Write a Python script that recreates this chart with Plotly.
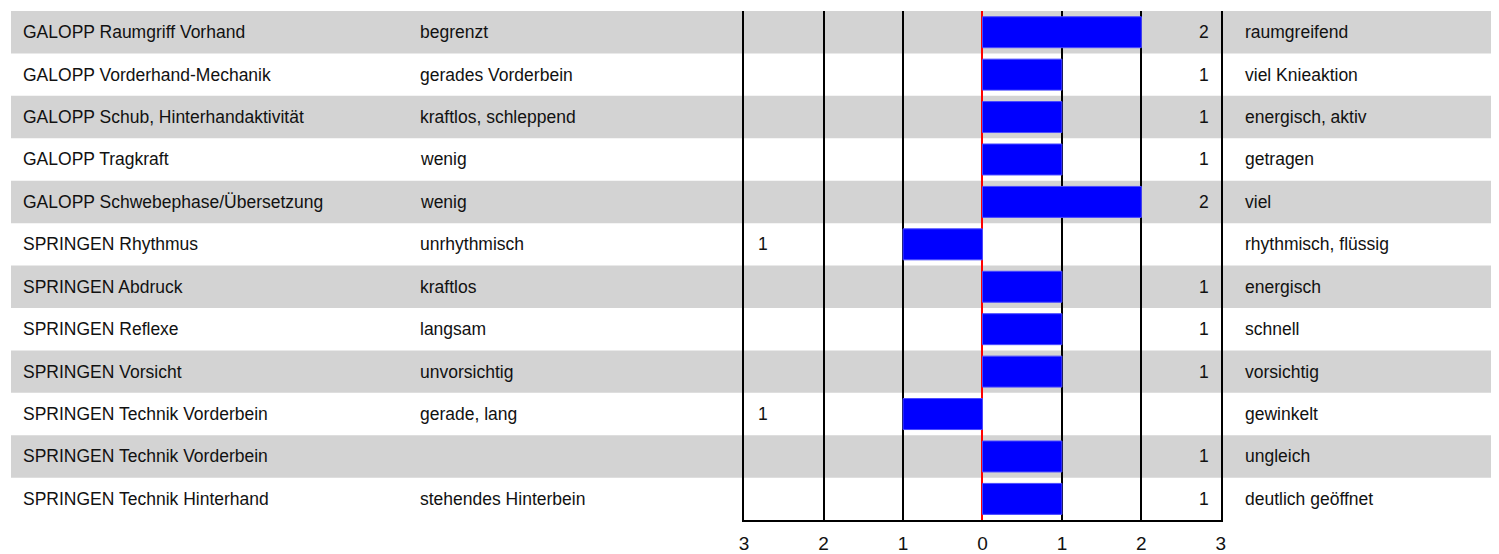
import plotly.graph_objects as go

labels = [
    "GALOPP Raumgriff Vorhand",
    "GALOPP Vorderhand-Mechanik",
    "GALOPP Schub, Hinterhandaktivität",
    "GALOPP Tragkraft",
    "GALOPP Schwebephase/Übersetzung",
    "SPRINGEN Rhythmus",
    "SPRINGEN Abdruck",
    "SPRINGEN Reflexe",
    "SPRINGEN Vorsicht",
    "SPRINGEN Technik Vorderbein",
    "SPRINGEN Technik Vorderbein",
    "SPRINGEN Technik Hinterhand",
]
left_desc = [
    "begrenzt", "gerades Vorderbein", "kraftlos, schleppend", "wenig", "wenig",
    "unrhythmisch", "kraftlos", "langsam", "unvorsichtig", "gerade, lang", "",
    "stehendes Hinterbein",
]
right_desc = [
    "raumgreifend", "viel Knieaktion", "energisch, aktiv", "getragen", "viel",
    "rhythmisch, flüssig", "energisch", "schnell", "vorsichtig", "gewinkelt",
    "ungleich", "deutlich geöffnet",
]
values = [2, 1, 1, 1, 2, -1, 1, 1, 1, -1, 1, 1]
tick_vals = [-3, -2, -1, 0, 1, 2, 3]
tick_text = ["3", "2", "1", "0", "1", "2", "3"]

# page body has an 8px margin; size the figure to the visible area
OFF = 8
W, H = 1499 - OFF, 554 - OFF


def px(xp):
    return (xp - OFF) / W


def py(yp):
    return 1 - (yp - OFF) / H


FONT = "Liberation Sans, Arial, sans-serif"
FS = 17.5
n = len(labels)
rows = list(range(n))

fig = go.Figure()
fig.add_trace(go.Bar(
    x=values, y=rows, orientation="h",
    marker=dict(color="#0000FF", line=dict(color="#4a4aff", width=1)),
    hoverinfo="skip", showlegend=False,
))

shapes = []
for i in rows:
    if i % 2 == 0:
        shapes.append(dict(type="rect", xref="paper", yref="y",
                           x0=px(6), x1=1, y0=i - 0.5, y1=i + 0.5,
                           fillcolor="#D3D3D3", line=dict(width=0), layer="below"))

ann = []
for i in rows:
    ann.append(dict(xref="paper", yref="y", x=px(16), y=i, text=labels[i],
                    xanchor="left", yanchor="middle", showarrow=False))
    if left_desc[i]:
        ann.append(dict(xref="paper", yref="y", x=px(416), y=i, text=left_desc[i],
                        xanchor="left", yanchor="middle", showarrow=False))
    ann.append(dict(xref="paper", yref="y", x=px(1246), y=i, text=right_desc[i],
                    xanchor="left", yanchor="middle", showarrow=False))
    v = values[i]
    if v > 0:
        ann.append(dict(xref="x", yref="y", x=tick_vals[-1] - 0.13, y=i, text=str(abs(v)),
                        xanchor="right", yanchor="middle", showarrow=False))
    elif v < 0:
        ann.append(dict(xref="x", yref="y", x=tick_vals[0] + 0.15, y=i, text=str(abs(v)),
                        xanchor="left", yanchor="middle", showarrow=False))

fig.update_layout(
    width=W, height=H,
    margin=dict(l=0, r=0, t=0, b=0),
    paper_bgcolor="white", plot_bgcolor="rgba(0,0,0,0)",
    font=dict(family=FONT, size=FS, color="#111"),
    bargap=0.27,
    shapes=shapes, annotations=ann,
    xaxis=dict(domain=[px(744), px(1224)], range=[-3, 3], tickvals=tick_vals,
               ticktext=tick_text, showgrid=True, gridcolor="black", gridwidth=2,
               zeroline=True, zerolinecolor="red", zerolinewidth=1.5,
               showline=True, linecolor="black", linewidth=2,
               ticks="", ticklabelstandoff=5, tickfont=dict(size=19),
               fixedrange=True),
    yaxis=dict(domain=[py(522), py(11)], range=[n - 0.5, -0.5],
               showgrid=False, zeroline=False, showticklabels=False,
               showline=True, linecolor="black", linewidth=2, mirror=True,
               fixedrange=True),
)

fig.write_html("out.html")
